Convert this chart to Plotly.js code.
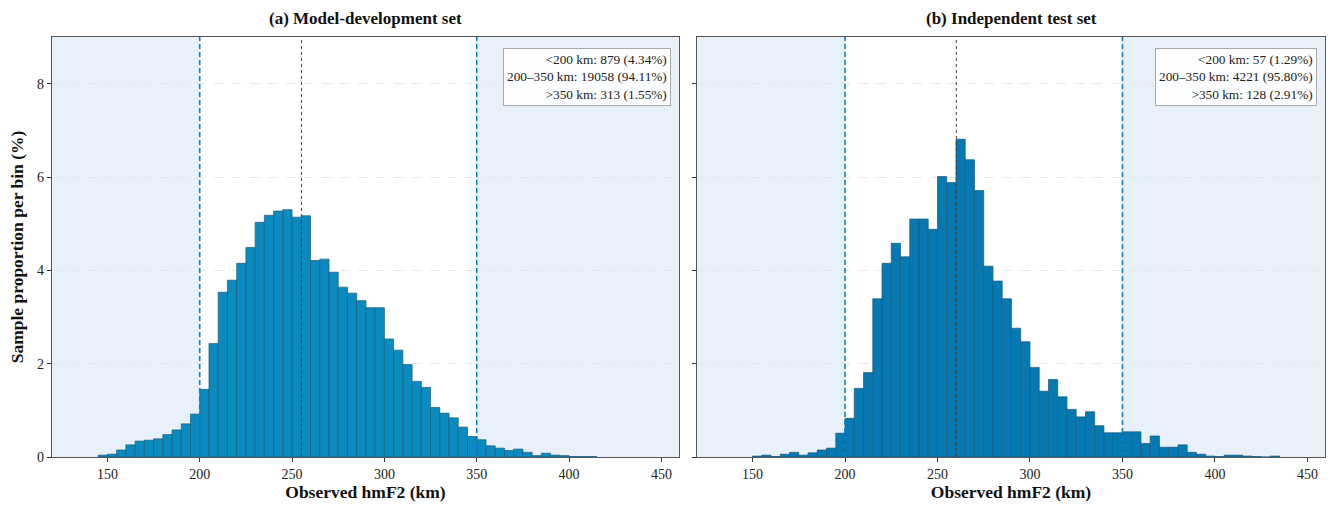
<!DOCTYPE html>
<html>
<head>
<meta charset="utf-8">
<script src="https://cdn.plot.ly/plotly-3.0.1.min.js"></script>
<style>
  html, body { margin: 0; padding: 0; background: #fff; }
  #chart { width: 1338px; height: 509px; }
</style>
</head>
<body>
<div id="chart"></div>
<script>
// --- DATA ---
// bin width 5 km, values are % of samples per bin
const binWidth = 5;

const devBinStart = 145;
const devPct = [
  0.04, 0.06, 0.15, 0.26, 0.34, 0.36, 0.39, 0.48, 0.58, 0.71, 0.92,
  1.45, 2.43, 3.53, 3.79, 4.15, 4.49, 5.03, 5.18, 5.27, 5.30,
  5.14, 5.17, 4.21, 4.24, 3.96, 3.64, 3.51, 3.35, 3.20, 3.20,
  2.53, 2.29, 1.98, 1.62, 1.49, 1.06, 0.94, 0.84, 0.64, 0.44,
  0.37, 0.24, 0.19, 0.14, 0.17, 0.10, 0.03, 0.08, 0.04, 0.03,
  0.01, 0.01, 0.01
];

const testBinStart = 150;
const testPct = [
  0.02, 0.04, 0.01, 0.06, 0.10, 0.04, 0.09, 0.15, 0.19, 0.51,
  0.83, 1.47, 1.81, 3.39, 4.15, 4.58, 4.29, 5.10, 5.10, 4.88,
  6.01, 5.88, 6.81, 6.37, 5.71, 4.09, 3.77, 3.39, 2.76, 2.47,
  1.92, 1.41, 1.66, 1.29, 1.02, 0.86, 0.97, 0.67, 0.52, 0.52,
  0.54, 0.54, 0.29, 0.45, 0.21, 0.21, 0.26, 0.10, 0.06, 0.02,
  0.01, 0.04, 0.04, 0.02, 0.01, 0.00, 0.02
];

const panelTitles = ['(a) Model-development set', '(b) Independent test set'];
const medians = [255.1, 260.2];
const bounds = [200, 350];
const xTicks = [150, 200, 250, 300, 350, 400, 450];
const yTicks = [0, 2, 4, 6, 8];

const statLines = [
  ['<200 km: 879 (4.34%)', '200–350 km: 19058 (94.11%)', '>350 km: 313 (1.55%)'],
  ['<200 km: 57 (1.29%)', '200–350 km: 4221 (95.80%)', '>350 km: 128 (2.91%)']
];

// --- STYLE ---
const FONT = 'Liberation Serif, Times New Roman, serif';
const barColors = ['#0a8bbf', '#0679b2'];
const shadeColor = '#e8f0f9';
const boundColor = '#0a7fcf';
const xRange = [120, 459.5];
const yRange = [0, 9];

function centers(start, vals) {
  return vals.map((v, i) => start + binWidth * i + binWidth / 2);
}

const traces = [
  {
    type: 'bar', x: centers(devBinStart, devPct), y: devPct, width: binWidth,
    marker: { color: barColors[0], line: { color: '#1d5a78', width: 0.7 } },
    xaxis: 'x', yaxis: 'y', hoverinfo: 'x+y'
  },
  {
    type: 'bar', x: centers(testBinStart, testPct), y: testPct, width: binWidth,
    marker: { color: barColors[1], line: { color: '#1d5a78', width: 0.7 } },
    xaxis: 'x2', yaxis: 'y2', hoverinfo: 'x+y'
  }
];

const shapes = [];
const annotations = [];
['x', 'x2'].forEach((xa, i) => {
  const ya = i === 0 ? 'y' : 'y2';
  // shaded out-of-range regions
  shapes.push({ type: 'rect', xref: xa, yref: ya + ' domain', x0: xRange[0], x1: bounds[0], y0: 0, y1: 1,
    fillcolor: shadeColor, line: { width: 0 }, layer: 'below' });
  shapes.push({ type: 'rect', xref: xa, yref: ya + ' domain', x0: bounds[1], x1: xRange[1], y0: 0, y1: 1,
    fillcolor: shadeColor, line: { width: 0 }, layer: 'below' });
  // bounds
  bounds.forEach(b => shapes.push({ type: 'line', xref: xa, yref: ya + ' domain', x0: b, x1: b, y0: 0, y1: 1,
    line: { color: boundColor, width: 1.6, dash: '5px,3px' } }));
  // median
  shapes.push({ type: 'line', xref: xa, yref: ya + ' domain', x0: medians[i], x1: medians[i], y0: 0, y1: 1,
    line: { color: '#444', width: 1, dash: 'dot' } });

  annotations.push({
    xref: xa + ' domain', yref: ya + ' domain', x: 0.5, y: 1, yanchor: 'bottom', yshift: 7,
    text: '<b>' + panelTitles[i] + '</b>', showarrow: false,
    font: { family: FONT, size: 17, color: '#111' }
  });
  annotations.push({
    xref: xa + ' domain', yref: ya + ' domain', x: 0.987, y: 0.975, xanchor: 'right', yanchor: 'top',
    text: statLines[i].join('<br>'), align: 'right', showarrow: false,
    font: { family: FONT, size: 13.3, color: '#222' },
    bgcolor: 'rgba(255,255,255,0.9)', bordercolor: '#aaa', borderwidth: 1, borderpad: 3
  });
});

const xAxisBase = {
  range: xRange, tickvals: xTicks, ticks: 'outside', ticklen: 4, tickcolor: '#333',
  showgrid: false, zeroline: false, showline: true, linecolor: '#555', linewidth: 1.2, mirror: true,
  tickfont: { family: FONT, size: 14, color: '#222' },
  title: { text: '<b>Observed hmF2 (km)</b>', font: { family: FONT, size: 17.5, color: '#111' }, standoff: 4 }
};
const yAxisBase = {
  range: yRange, tickvals: yTicks, ticks: 'outside', ticklen: 4, tickcolor: '#333',
  showgrid: true, gridcolor: '#e6e6e6', griddash: 'dash', gridwidth: 1,
  zeroline: false, showline: true, linecolor: '#555', linewidth: 1.2, mirror: true,
  tickfont: { family: FONT, size: 14, color: '#222' }
};

const layout = {
  width: 1338, height: 509,
  margin: { l: 52, r: 13, t: 37, b: 52 },
  paper_bgcolor: '#fff', plot_bgcolor: 'rgba(0,0,0,0)',
  showlegend: false, bargap: 0,
  xaxis: Object.assign({}, xAxisBase, { domain: [0, 0.4925], anchor: 'y' }),
  xaxis2: Object.assign({}, xAxisBase, { domain: [0.5067, 1], anchor: 'y2' }),
  yaxis: Object.assign({}, yAxisBase, { anchor: 'x',
    title: { text: '<b>Sample proportion per bin (%)</b>', font: { family: FONT, size: 17.5, color: '#111' }, standoff: 8 } }),
  yaxis2: Object.assign({}, yAxisBase, { anchor: 'x2', showticklabels: false }),
  shapes: shapes,
  annotations: annotations
};

Plotly.newPlot('chart', traces, layout, { displayModeBar: false, staticPlot: true });
</script>
</body>
</html>
